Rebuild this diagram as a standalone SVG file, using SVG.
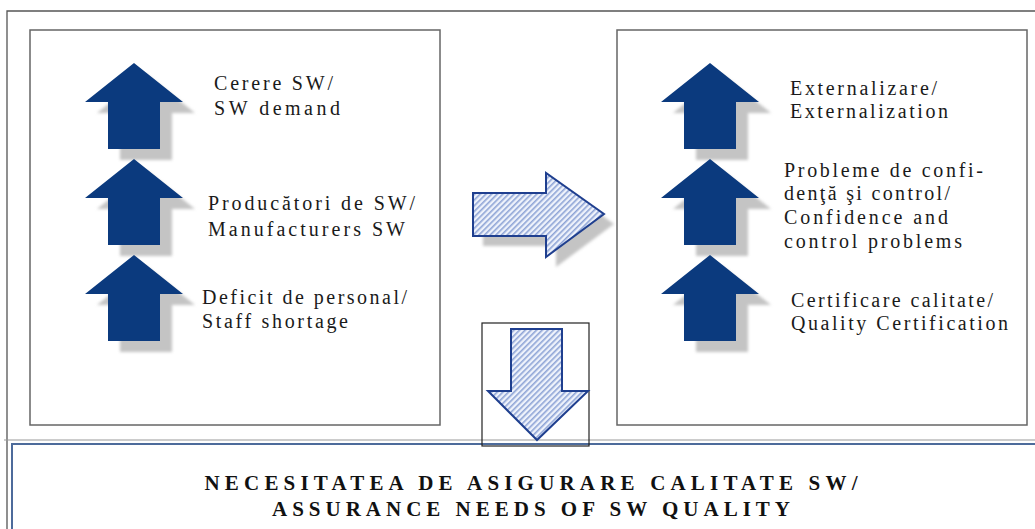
<svg xmlns="http://www.w3.org/2000/svg" width="1035" height="529" viewBox="0 0 1035 529">
<defs>
<style>
.frame{fill:none;stroke:#555;stroke-width:1.3}
.box{fill:#fff;stroke:#666;stroke-width:1.5}
.up{fill:#0b3a7e}
.shadow{fill:#c4c4c4;filter:url(#blur)}
.hatch{fill:url(#hatch);stroke:#1f3f8f;stroke-width:2;stroke-linejoin:miter}
.t{font-size:20px;fill:#1a1a1a}
.b{font-size:21px;font-weight:bold;fill:#111}
</style>
<filter id="blur" x="-20%" y="-20%" width="140%" height="140%"><feGaussianBlur stdDeviation="1.5"/></filter>
<pattern id="hatch" patternUnits="userSpaceOnUse" width="4" height="4" patternTransform="rotate(45)">
<rect width="4" height="4" fill="#eef2fb"/>
<rect width="1.6" height="4" fill="#8ea4d6"/>
</pattern>
<path id="uparrow" d="M0,0 L49,39 L26,39 L26,86 L-26,86 L-26,39 L-49,39 Z"/>
</defs>
<g id="outer-frame">
<path class="frame" d="M1040,11 L7,11 L7,529"/>
<path d="M4,440 L1035,440" stroke="#999" stroke-width="1.2"/>
</g>
<g id="bottom-box" font-family="'Liberation Serif', 'DejaVu Serif', serif">
<rect x="12" y="444" width="1040" height="100" fill="#fff" stroke="#4d6b9b" stroke-width="2"/>
<text class="b" x="531" y="490" text-anchor="middle" textLength="653" lengthAdjust="spacing">NECESITATEA DE ASIGURARE CALITATE SW/</text>
<text class="b" x="531" y="516" text-anchor="middle" textLength="518" lengthAdjust="spacing">ASSURANCE NEEDS OF SW QUALITY</text>
</g>
<g id="left-box" font-family="'Liberation Serif', 'DejaVu Serif', serif">
<rect class="box" x="30" y="30" width="410" height="395"/>
<use href="#uparrow" class="shadow" x="146" y="74"/>
<use href="#uparrow" class="up" x="134" y="63"/>
<use href="#uparrow" class="shadow" x="146" y="170"/>
<use href="#uparrow" class="up" x="134" y="159"/>
<use href="#uparrow" class="shadow" x="146" y="266"/>
<use href="#uparrow" class="up" x="134" y="255"/>
<text class="t" x="214" y="90" textLength="119" lengthAdjust="spacing">Cerere SW/</text>
<text class="t" x="214" y="115" textLength="126" lengthAdjust="spacing">SW demand</text>
<text class="t" x="208" y="210" textLength="207" lengthAdjust="spacing">Producători de SW/</text>
<text class="t" x="208" y="236" textLength="197" lengthAdjust="spacing">Manufacturers SW</text>
<text class="t" x="202" y="304" textLength="205" lengthAdjust="spacing">Deficit de personal/</text>
<text class="t" x="202" y="328" textLength="146" lengthAdjust="spacing">Staff shortage</text>
</g>
<g id="right-box" font-family="'Liberation Serif', 'DejaVu Serif', serif">
<rect class="box" x="617" y="30" width="410" height="395"/>
<use href="#uparrow" class="shadow" x="722" y="74"/>
<use href="#uparrow" class="up" x="710" y="63"/>
<use href="#uparrow" class="shadow" x="722" y="170"/>
<use href="#uparrow" class="up" x="710" y="159"/>
<use href="#uparrow" class="shadow" x="722" y="266"/>
<use href="#uparrow" class="up" x="710" y="255"/>
<text class="t" x="790" y="95" textLength="147" lengthAdjust="spacing">Externalizare/</text>
<text class="t" x="790" y="118" textLength="158" lengthAdjust="spacing">Externalization</text>
<text class="t" x="784" y="177" textLength="199" lengthAdjust="spacing">Probleme de confi-</text>
<text class="t" x="784" y="200" textLength="166" lengthAdjust="spacing">denţă şi control/</text>
<text class="t" x="784" y="224" textLength="164" lengthAdjust="spacing">Confidence and</text>
<text class="t" x="784" y="248" textLength="178" lengthAdjust="spacing">control problems</text>
<text class="t" x="791" y="307" textLength="202" lengthAdjust="spacing">Certificare calitate/</text>
<text class="t" x="791" y="330" textLength="217" lengthAdjust="spacing">Quality Certification</text>
</g>
<g id="connectors">
<path class="shadow" d="M483,203 L556,203 L556,183 L614,224 L556,267 L556,246 L483,246 Z"/>
<path class="hatch" d="M473,193 L546,193 L546,173 L604,214 L546,257 L546,236 L473,236 Z"/>
<rect x="482" y="323" width="107" height="123" fill="none" stroke="#222" stroke-width="1.2"/>
<path class="hatch" d="M511,329 L562,329 L562,391 L588,391 L537,440 L488,391 L511,391 Z"/>
</g>
</svg>
